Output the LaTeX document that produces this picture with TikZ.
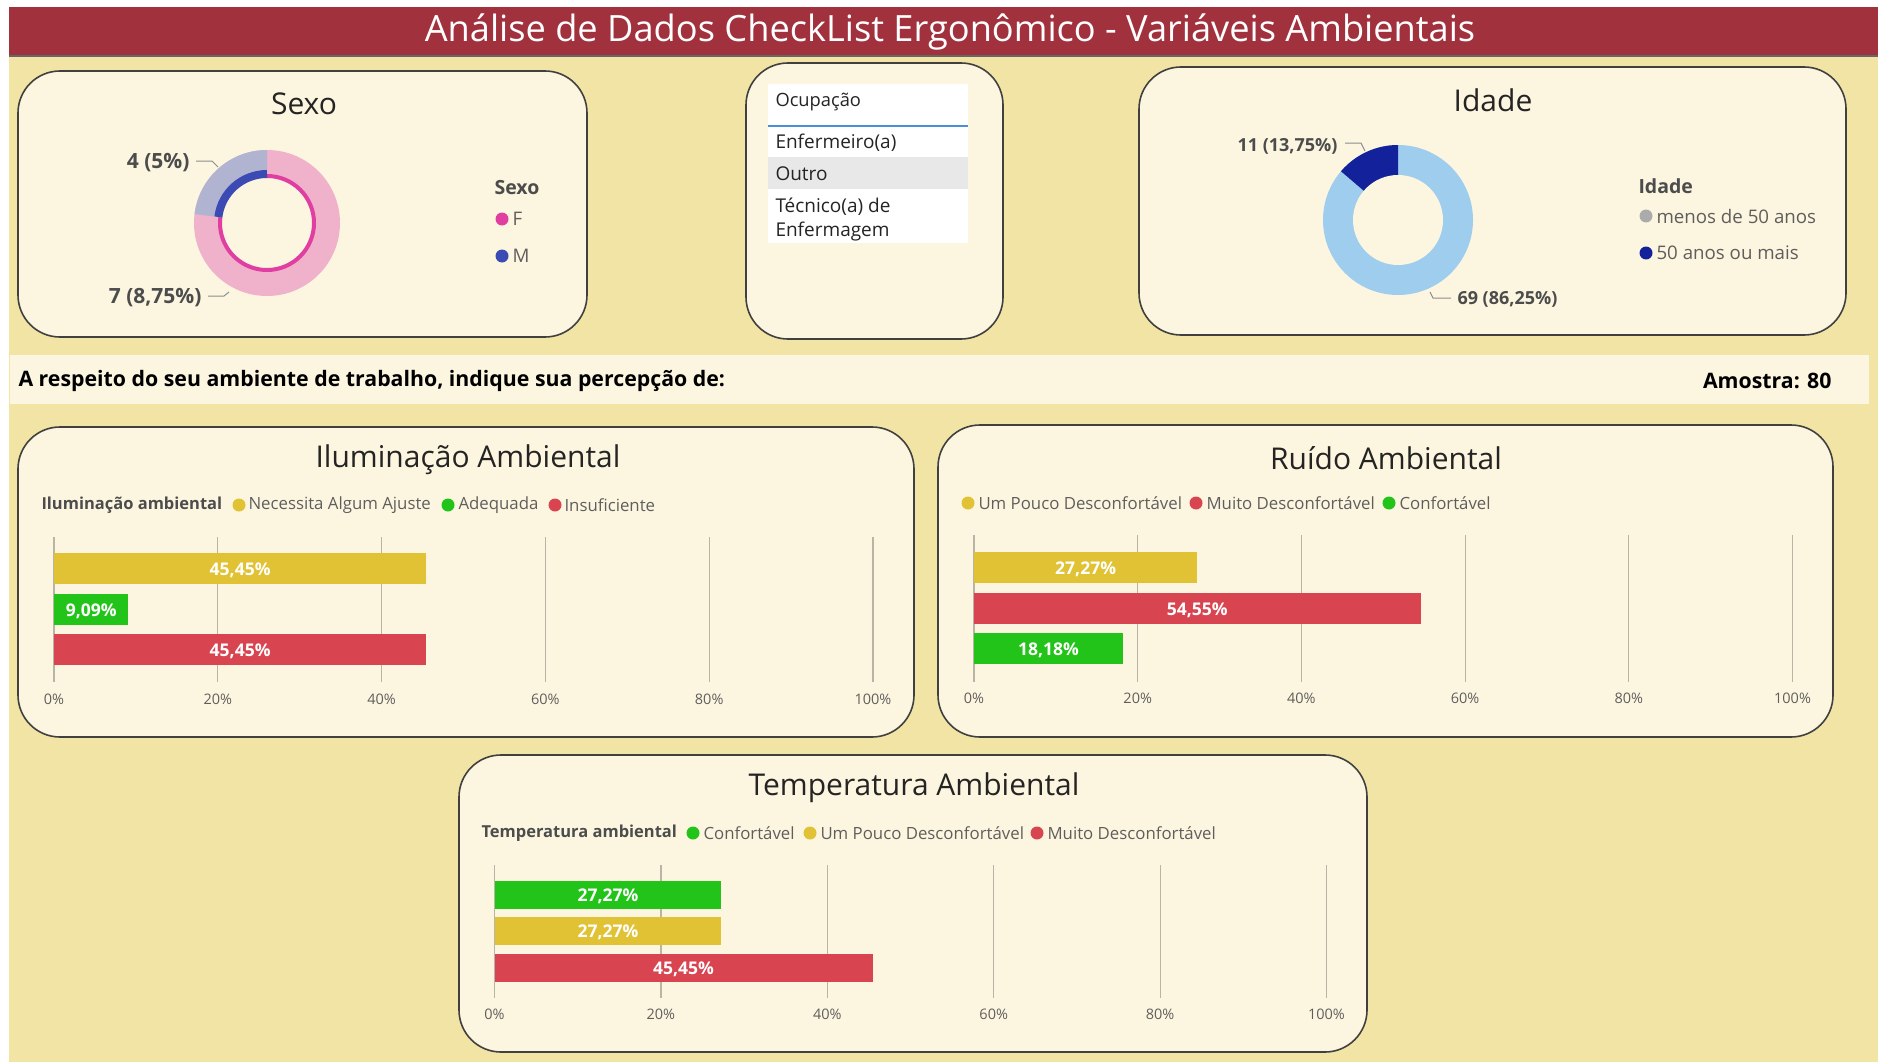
\documentclass[tikz,border=0pt]{standalone}
\usepackage{fontspec}
\setmainfont{Open Sans}
\usetikzlibrary{positioning,calc}

\definecolor{bgyellow}{HTML}{F1E4A4}
\definecolor{cream}{HTML}{FCF6E1}
\definecolor{headred}{HTML}{A0313D}
\definecolor{barYel}{HTML}{E0C234}
\definecolor{barGrn}{HTML}{23C419}
\definecolor{barRed}{HTML}{D84551}
\definecolor{darktxt}{HTML}{252423}
\definecolor{legtxt}{HTML}{605E5C}
\definecolor{gridgray}{HTML}{B8B4A6}
\definecolor{pinklight}{HTML}{F0B1CB}
\definecolor{pinkdeep}{HTML}{E13EA1}
\definecolor{mlight}{HTML}{B0B4D0}
\definecolor{mdeep}{HTML}{3C4AB4}
\definecolor{agelight}{HTML}{9ECDEE}
\definecolor{agedeep}{HTML}{13229A}
\definecolor{selblue}{HTML}{4A90D9}

\tikzset{
every picture/.style={
line width=1pt
}}
\tikzset{
  panel/.style={draw=black!75, line width=1.6pt, fill=cream, rounded corners=42pt},
  paneltitle/.style={font=\fontsize{30}{33}\selectfont, text=darktxt},
  legtitle/.style={font=\bfseries\fontsize{16.5}{20}\selectfont, text=black!70, anchor=west, inner sep=0pt},
  legitem/.style={font=\fontsize{16.8}{20}\selectfont, text=legtxt, anchor=west, inner sep=0pt},
  donutlegtitle/.style={legtitle, font=\bfseries\fontsize{19.5}{22}\selectfont},
  donutlegitem/.style={legitem, font=\fontsize{18.7}{22}\selectfont},
  legdot/.style={circle, inner sep=0pt, minimum size=13pt, fill=#1},
  tick/.style={font=\fontsize{14.5}{18}\selectfont, text=legtxt},
  barlbl/.style={font=\bfseries\fontsize{17.5}{20}\selectfont, text=white, yshift=-1.5pt},
  gridline/.style={draw=gridgray, line width=1.2pt},
  donutlbl/.style={font=\bfseries\fontsize{18}{22}\selectfont, text=black!70, inner sep=0pt},
  leader/.style={draw=black!45, line width=1pt},
  rowtxt/.style={font=\fontsize{19}{21}\selectfont, text=darktxt, anchor=west, inner sep=0pt}
}

\begin{document}
\begin{tikzpicture}[x=1pt, y=-1pt]
\useasboundingbox (0,0) rectangle (1878,1062);
\fill[white] (0,0) rectangle (1878,1062);
\fill[bgyellow] (9,57) rectangle (1878,1062);

% header
\fill[headred] (9,7) rectangle (1878,57);
\draw[black!60, line width=1.5pt] (9,56) -- (1878,56);
\node[text=white, font=\fontsize{36.2}{38}\selectfont] (title) at (950,32) {Análise de Dados CheckList Ergonômico - Variáveis Ambientais};

% panels
\draw[panel] (18,71) rectangle (587,337);
\draw[panel] (746,63) rectangle (1003,339);
\draw[panel] (1139,67) rectangle (1846,335);
\draw[panel] (18,427) rectangle (914,737);
\draw[panel] (938,425) rectangle (1833,737);
\draw[panel] (459,755) rectangle (1367,1052);

% Sexo donut
\node[paneltitle] (sexotit) at (304,104) {Sexo};
\coordinate (sexoc) at (267,223);
\fill[pinklight] (sexoc) circle (73);
\fill[mlight] (sexoc) -- ++(-173:73) arc[start angle=-173, end angle=-90, radius=73] -- cycle;
\fill[cream] (sexoc) circle (48);
\draw[pinkdeep, line width=4pt] ($(sexoc)+(-90:47)$) arc[start angle=-90, end angle=187, radius=47];
\draw[mdeep, line width=8pt] ($(sexoc)+(-173:49)$) arc[start angle=-173, end angle=-90, radius=49];
\node[donutlbl, font=\bfseries\fontsize{21}{24}\selectfont, anchor=east] (sexom) at (190,163) {4 (5\%)};
\node[donutlbl, font=\bfseries\fontsize{21}{24}\selectfont, anchor=east] (sexof) at (202,298) {7 (8,75\%)};
\draw[leader] (sexom.east) ++(6,-2) -- ++(16,0) -- ++(6,6);
\draw[leader] (sexof.east) ++(6,-2) -- ++(16,0) -- ++(5,-4);
\node[donutlegtitle] (sexoleg) at (494,188) {Sexo};
\node[legdot=pinkdeep] (dotf) at (502,219) {};
\node[donutlegitem, right=3pt of dotf] (legf) {F};
\node[legdot=mdeep] (dotm) at (502,256) {};
\node[donutlegitem, right=3pt of dotm] (legm) {M};

% Ocupacao slicer
\fill[white] (768,84) rectangle (968,243);
\fill[black!9] (768,157) rectangle (968,189);
\draw[selblue, line width=1.5pt] (768,126) -- (968,126);
\node[rowtxt, font=\fontsize{18.3}{21}\selectfont] (ochead) at (775,102) {Ocupação};
\node[rowtxt] (oc1) at (775,143) {Enfermeiro(a)};
\node[rowtxt] (oc2) at (775,174) {Outro};
\node[rowtxt] (oc3) at (775,207) {Técnico(a) de};
\node[rowtxt] (oc4) at (775,232) {Enfermagem};

% Idade donut
\node[paneltitle] (idadetit) at (1493,100) {Idade};
\coordinate (idadec) at (1398,220);
\fill[agelight] (idadec) circle (75);
\fill[agedeep] (idadec) -- ++(-139.5:75) arc[start angle=-139.5, end angle=-90, radius=75] -- cycle;
\fill[cream] (idadec) circle (45);
\node[donutlbl, anchor=east] (idadeold) at (1338,146) {11 (13,75\%)};
\node[donutlbl, anchor=west] (idadeyoung) at (1457,299) {69 (86,25\%)};
\draw[leader] (idadeold.east) ++(7,-3) -- ++(16,0) -- ++(4,8);
\draw[leader] (idadeyoung.west) ++(-6,-1) -- ++(-18,0) -- ++(-3,-6);
\node[donutlegtitle] (idadeleg) at (1638,186) {Idade};
\node[legdot=black!33] (dotyoung) at (1646,216) {};
\node[donutlegitem, right=3pt of dotyoung] (legyoung) {menos de 50 anos};
\node[legdot=agedeep] (dotold) at (1646,253) {};
\node[donutlegitem, right=3pt of dotold] (legold) {50 anos ou mais};

% question strip
\fill[cream] (10,355) rectangle (1869,404);
\node[font=\bfseries\fontsize{21.3}{24}\selectfont, anchor=west, inner sep=0pt] (question) at (18,381) {A respeito do seu ambiente de trabalho, indique sua percepção de:};
\node[font=\bfseries\fontsize{21.3}{24}\selectfont, anchor=east, inner sep=0pt] (amostra) at (1832,381) {Amostra: 80};

% Iluminacao
\node[paneltitle] (iltit) at (468,460) {Iluminação Ambiental};
\node[legtitle] (illeg) at (41,505) {Iluminação ambiental};
\node[legdot=barYel] (ild1) at (239,505) {};
\node[legitem] (ill1) at (248,505) {Necessita Algum Ajuste};
\node[legdot=barGrn] (ild2) at (448,505) {};
\node[legitem] (ill2) at (458,505) {Adequada};
\node[legdot=barRed] (ild3) at (555,505) {};
\node[legitem] (ill3) at (564,505) {Insuficiente};
\foreach \p [count=\i] in {0,20,...,100}{
  \draw[gridline] ({54+8.19*\p},537) -- ({54+8.19*\p},682);
  \node[tick] (ilt\i) at ({54+8.19*\p},699) {\p\%};
}
\foreach \v/\lbl/\c/\yt [count=\i] in {45.45/{45,45\%}/barYel/553, 9.09/{9,09\%}/barGrn/594, 45.45/{45,45\%}/barRed/634}{
  \fill[fill=\c] (54,\yt) rectangle ({54+8.19*\v},\yt+31);
  \node[barlbl] (ilb\i) at ({54+4.095*\v},\yt+15.5) {\lbl};
}

% Ruido
\node[paneltitle] (rutit) at (1386,458) {Ruído Ambiental};
\node[legdot=barYel] (rud1) at (968,503) {};
\node[legitem] (rul1) at (978,503) {Um Pouco Desconfortável};
\node[legdot=barRed] (rud2) at (1196,503) {};
\node[legitem] (rul2) at (1206,503) {Muito Desconfortável};
\node[legdot=barGrn] (rud3) at (1389,503) {};
\node[legitem] (rul3) at (1399,503) {Confortável};
\foreach \p [count=\i] in {0,20,...,100}{
  \draw[gridline] ({974+8.185*\p},535) -- ({974+8.185*\p},682);
  \node[tick] (rut\i) at ({974+8.185*\p},698) {\p\%};
}
\foreach \v/\lbl/\c/\yt [count=\i] in {27.27/{27,27\%}/barYel/552, 54.55/{54,55\%}/barRed/593, 18.18/{18,18\%}/barGrn/633}{
  \fill[fill=\c] (974,\yt) rectangle ({974+8.185*\v},\yt+31);
  \node[barlbl] (rub\i) at ({974+4.0925*\v},\yt+15.5) {\lbl};
}

% Temperatura
\node[paneltitle] (tetit) at (914,788) {Temperatura Ambiental};
\node[legtitle] (teleg) at (481,833) {Temperatura ambiental};
\node[legdot=barGrn] (ted1) at (693,833) {};
\node[legitem] (tel1) at (703,833) {Confortável};
\node[legdot=barYel] (ted2) at (810,833) {};
\node[legitem] (tel2) at (820,833) {Um Pouco Desconfortável};
\node[legdot=barRed] (ted3) at (1037,833) {};
\node[legitem] (tel3) at (1047,833) {Muito Desconfortável};
\foreach \p [count=\i] in {0,20,...,100}{
  \draw[gridline] ({494.5+8.32*\p},865) -- ({494.5+8.32*\p},998);
  \node[tick] (tet\i) at ({494.5+8.32*\p},1014) {\p\%};
}
\foreach \v/\lbl/\c/\yt [count=\i] in {27.27/{27,27\%}/barGrn/881, 27.27/{27,27\%}/barYel/917, 45.45/{45,45\%}/barRed/954}{
  \fill[fill=\c] (494.5,\yt) rectangle ({494.5+8.32*\v},\yt+27.5);
  \node[barlbl] (teb\i) at ({494.5+4.16*\v},\yt+13.75) {\lbl};
}
\end{tikzpicture}
\end{document}
